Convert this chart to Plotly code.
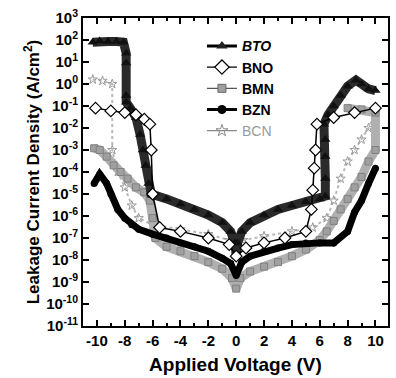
import plotly.graph_objects as go

# ---------------- data ----------------
bto_v = [-10.3, -9.8, -9.2, -8.6, -8.1, -7.9, -7.9, -7.9, -7.9, -7.6, -7.2, -6.9, -6.7, -6.5, -6.3, -6.1,
         -5.0, -4.0, -3.0, -2.0, -1.0, -0.4, -0.1, 0.0, 0.1, 0.4, 1.0, 2.0, 3.0, 4.0, 5.0, 6.0,
         6.4, 6.4, 6.4, 6.4, 6.3, 6.6, 7.0, 7.5, 8.0, 8.6, 9.0, 9.5, 10.0]
bto_j = [80, 90, 85, 85, 80, 25, 9, 0.3, 0.15, 0.08, 0.03, 5e-3, 1e-3, 2e-4, 3e-5, 1e-5,
         6e-6, 3.5e-6, 2e-6, 1.1e-6, 5e-7, 2e-7, 6e-8, 1.5e-8, 6e-8, 2e-7, 5e-7, 1.1e-6, 2e-6, 3e-6, 4.5e-6, 6e-6,
         8e-6, 5e-5, 5e-4, 3e-3, 1.5e-2, 4e-2, 0.1, 0.3, 0.8, 1.5, 1.0, 0.6, 0.5]

bno_v = [-10.1, -9.0, -8.0, -7.2, -6.6, -6.2, -6.1, -6.0, -5.5, -4.0, -2.0, -0.5, 0.0,
         0.7, 2.0, 3.5, 5.0, 5.4, 5.5, 5.6, 5.7, 5.8, 7.0, 8.5, 10.0]
bno_j = [0.08, 0.06, 0.05, 0.04, 0.025, 0.015, 1e-3, 1e-5, 3e-7, 2e-7, 1e-7, 5e-8, 1.5e-8,
         3.5e-8, 6e-8, 1e-7, 2e-7, 2e-6, 1.5e-5, 1.5e-4, 1e-3, 0.015, 0.03, 0.05, 0.08]

bmn_v = [-10.2, -9.8, -9.3, -8.8, -8.3, -7.8, -7.2, -6.6, -6.2, -6.0, -5.8, -5.0, -4.0, -3.0, -2.0, -1.0,
         -0.3, 0.0, 0.3, 1.0, 2.0, 3.0, 4.0, 5.0, 6.0, 6.5, 7.0, 7.5, 8.0, 8.5, 9.0, 9.5, 10.0,
         10.0, 9.0, 8.0]
bmn_j = [1.2e-3, 1e-3, 5e-4, 2e-4, 1e-4, 5e-5, 2e-5, 1.2e-5, 5e-6, 8e-7, 1e-7, 4e-8, 2.5e-8, 1.5e-8, 8e-9, 4e-9,
         1.5e-9, 5e-10, 1.5e-9, 3e-9, 5e-9, 8e-9, 1.5e-8, 3e-8, 8e-8, 2e-7, 6e-7, 2e-6, 6e-6, 2e-5, 6e-5, 3e-4, 1e-3,
         0.05, 0.07, 0.08]

bzn_v = [-10.2, -9.8, -9.3, -9.0, -8.5, -8.0, -7.5, -7.0, -6.0, -5.0, -4.0, -3.0, -2.0, -1.0, -0.4, 0.0,
         0.4, 1.0, 2.0, 3.0, 4.0, 5.0, 6.0, 7.0, 8.0, 8.5, 9.0, 9.5, 10.0]
bzn_j = [3e-5, 8e-5, 3e-5, 1e-5, 2e-6, 8e-7, 4e-7, 2.5e-7, 1.5e-7, 1e-7, 6e-8, 4e-8, 2.5e-8, 1.2e-8, 7e-9, 2e-9,
         8e-9, 1.5e-8, 2.5e-8, 3.5e-8, 5e-8, 6e-8, 6e-8, 6e-8, 2e-7, 1.5e-6, 5e-6, 3e-5, 1.5e-4]

bcn_v = [-10.3, -9.6, -8.9, -8.9, -8.5, -8.0, -7.5, -7.0, -6.0, -4.0, -2.0, -0.5, 0.0, 0.5, 2.0, 4.0,
         5.5, 6.5, 7.0, 7.5, 8.0, 8.5, 9.0, 9.5, 10.0]
bcn_j = [1.6, 1.4, 1.0, 1e-3, 1e-4, 2e-5, 3e-6, 8e-7, 4e-7, 2.5e-7, 1.5e-7, 8e-8, 3e-8, 8e-8, 1.2e-7, 2e-7,
         3e-7, 8e-7, 5e-6, 5e-5, 3e-4, 1e-3, 3e-3, 1e-2, 0.05]

series_names = ["<b><i>BTO</i></b>", "<b>BNO</b>", "<b>BMN</b>", "<b>BZN</b>",
                "<span style='color:#9a9a9a'>BCN</span>"]

y_exps = list(range(-11, 4))
y_tickvals = [10.0 ** e for e in y_exps]
y_ticktext = ["<b>10<sup>%d</sup></b>" % e for e in y_exps]
x_tickvals = [-10, -8, -6, -4, -2, 0, 2, 4, 6, 8, 10]
x_ticktext = ["<b>%d</b>" % v for v in x_tickvals]

fig = go.Figure()

# data traces (drawn bands)
fig.add_trace(go.Scatter(x=bcn_v, y=bcn_j, showlegend=False, mode="lines+markers",
                         line=dict(color="#b8b8b8", width=2, dash="dot"),
                         marker=dict(symbol="star-open", size=7, color="#9a9a9a", line=dict(width=1))))
fig.add_trace(go.Scatter(x=bmn_v, y=bmn_j, showlegend=False, mode="lines+markers",
                         line=dict(color="#b0b0b0", width=9),
                         marker=dict(symbol="square", size=7, color="#a0a0a0",
                                     line=dict(color="#808080", width=1))))
fig.add_trace(go.Scatter(x=bzn_v, y=bzn_j, showlegend=False, mode="lines+markers",
                         line=dict(color="#000000", width=7),
                         marker=dict(symbol="circle", size=7, color="#000000")))
fig.add_trace(go.Scatter(x=bto_v, y=bto_j, showlegend=False, mode="lines+markers",
                         line=dict(color="#2a2a2a", width=9),
                         marker=dict(symbol="triangle-up", size=9, color="#111111")))
fig.add_trace(go.Scatter(x=bno_v, y=bno_j, showlegend=False, mode="lines+markers",
                         line=dict(color="#000000", width=1.5),
                         marker=dict(symbol="diamond", size=9, color="#ffffff",
                                     line=dict(color="#000000", width=1.2))))

# legend entries (styled like the original key)
legend_styles = [
    dict(line=dict(color="#000", width=3), marker=dict(symbol="triangle-up", size=10, color="#222")),
    dict(line=dict(color="#000", width=1.2), marker=dict(symbol="diamond", size=11, color="#fff",
                                                          line=dict(color="#000", width=1.2))),
    dict(line=dict(color="#555", width=1.2), marker=dict(symbol="square", size=8, color="#a0a0a0",
                                                          line=dict(color="#666", width=1))),
    dict(line=dict(color="#000", width=3), marker=dict(symbol="circle", size=9, color="#000")),
    dict(line=dict(color="#888", width=1.2), marker=dict(symbol="star-open", size=9, color="#888",
                                                          line=dict(width=1))),
]
for rank, (nm, st) in enumerate(zip(series_names, legend_styles), start=1):
    fig.add_trace(go.Scatter(x=[None], y=[None], name=nm, mode="lines+markers",
                             legendrank=rank, **st))

fig.update_layout(
    width=396, height=378,
    margin=dict(l=83, r=6, t=18, b=51),
    paper_bgcolor="white", plot_bgcolor="white",
    font=dict(family="Liberation Sans, Arial, sans-serif", color="black"),
    showlegend=True,
    legend=dict(x=0.39, y=0.96, xanchor="left", yanchor="top",
                bgcolor="rgba(0,0,0,0)", font=dict(size=14, color="black"),
                itemwidth=30, tracegroupgap=0),
)

fig.update_xaxes(range=[-11, 10.9], tickvals=x_tickvals, ticktext=x_ticktext,
                 ticks="inside", ticklen=6, tickwidth=1.5, tickcolor="black",
                 minor=dict(dtick=1, ticks="inside", ticklen=3, tickcolor="black"),
                 showline=True, linecolor="black", linewidth=2, mirror="ticks",
                 showgrid=False, zeroline=False,
                 tickfont=dict(size=15),
                 title=dict(text="<b>Applied Voltage (V)</b>", font=dict(size=19), standoff=10))
fig.update_yaxes(type="log", range=[-11, 3], tickvals=y_tickvals, ticktext=y_ticktext,
                 ticks="inside", ticklen=6, tickwidth=1.5, tickcolor="black",
                 showline=True, linecolor="black", linewidth=2, mirror="ticks",
                 showgrid=False, zeroline=False,
                 tickfont=dict(size=15),
                 title=dict(text="<b>Leakage Current Density (A/cm<sup>2</sup>)</b>",
                            font=dict(size=17), standoff=2))

fig.write_html("out.html")
